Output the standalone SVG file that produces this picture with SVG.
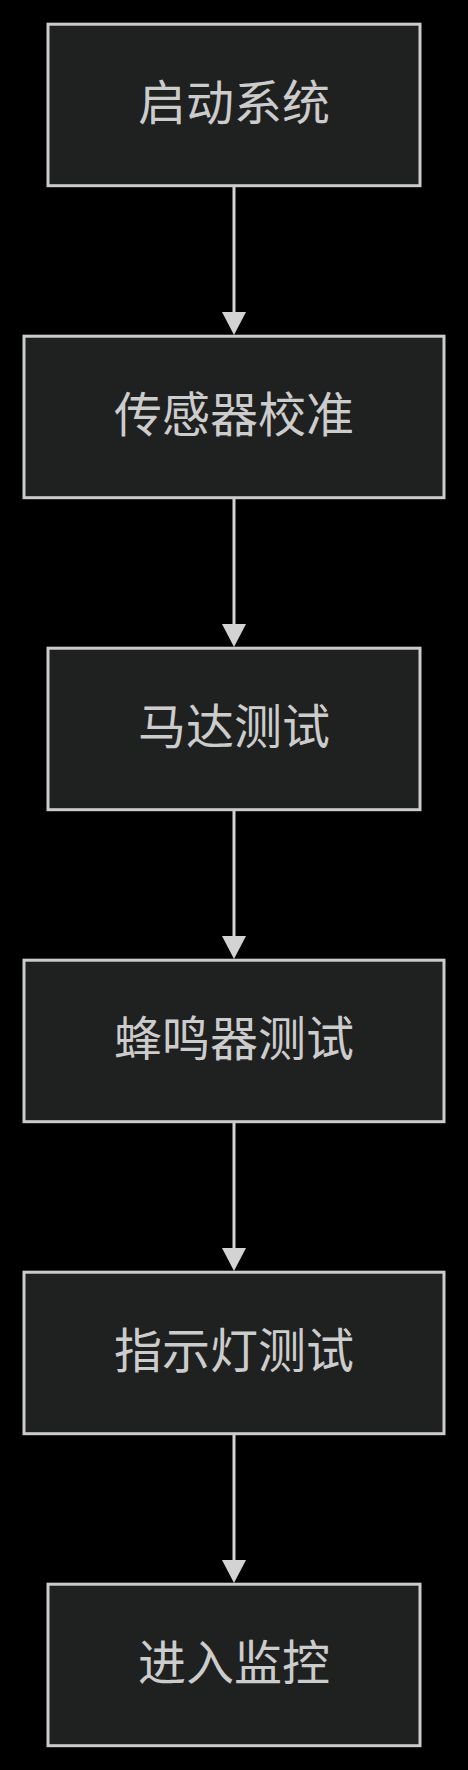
<svg xmlns="http://www.w3.org/2000/svg" width="468" height="1770" viewBox="0 0 468 1770">
<defs>
<style>
.node rect{fill:#1f2020;stroke:#cccccc;stroke-width:3}
.node text{fill:#cccccc;font-family:"Noto Sans CJK SC","Noto Sans",sans-serif;font-size:48px;text-anchor:middle}
.edge{stroke:#d3d3d3;stroke-width:3;fill:none}
.head{fill:#d3d3d3}
</style>
</defs>
<rect x="0" y="0" width="468" height="1770" fill="#000000"/>
<g id="connectors">
<line class="edge" x1="234" y1="186" x2="234" y2="314"/>
<polygon class="head" points="222,312 246,312 234,335"/>
<line class="edge" x1="234" y1="498" x2="234" y2="626"/>
<polygon class="head" points="222,624 246,624 234,647"/>
<line class="edge" x1="234" y1="810" x2="234" y2="938"/>
<polygon class="head" points="222,936 246,936 234,959"/>
<line class="edge" x1="234" y1="1122" x2="234" y2="1250"/>
<polygon class="head" points="222,1248 246,1248 234,1271"/>
<line class="edge" x1="234" y1="1434" x2="234" y2="1562"/>
<polygon class="head" points="222,1560 246,1560 234,1583"/>
</g>
<g id="node1" class="node">
<rect x="48" y="24.2" width="372" height="161.5"/>
<text x="234" y="120">启动系统</text>
</g>
<g id="node2" class="node">
<rect x="24" y="336.2" width="420" height="161.5"/>
<text x="234" y="432">传感器校准</text>
</g>
<g id="node3" class="node">
<rect x="48" y="648.2" width="372" height="161.5"/>
<text x="234" y="744">马达测试</text>
</g>
<g id="node4" class="node">
<rect x="24" y="960.2" width="420" height="161.5"/>
<text x="234" y="1056">蜂鸣器测试</text>
</g>
<g id="node5" class="node">
<rect x="24" y="1272.2" width="420" height="161.5"/>
<text x="234" y="1368">指示灯测试</text>
</g>
<g id="node6" class="node">
<rect x="48" y="1584.2" width="372" height="161.5"/>
<text x="234" y="1680">进入监控</text>
</g>
</svg>
